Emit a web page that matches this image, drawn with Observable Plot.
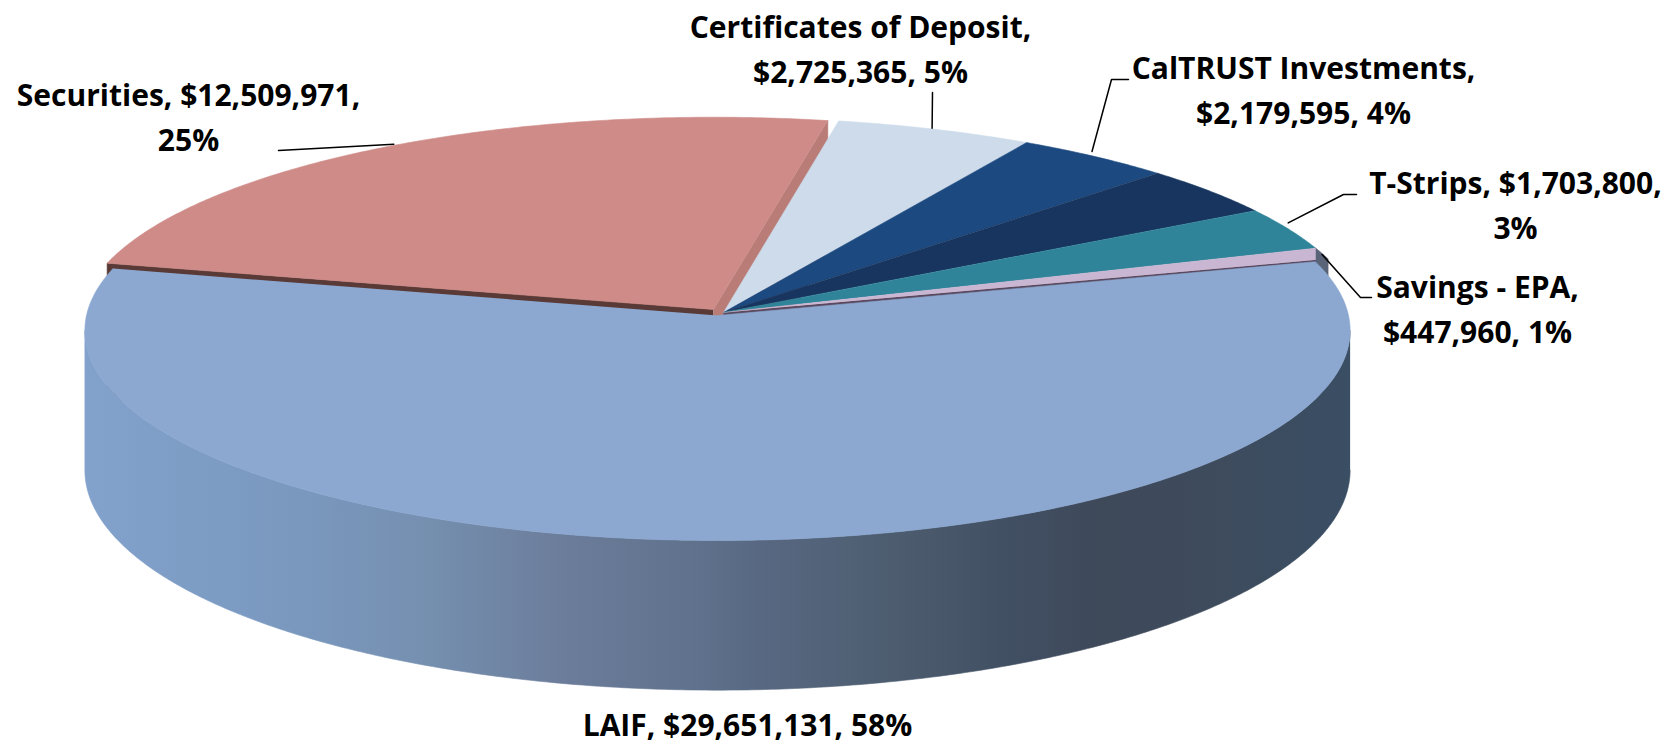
<!DOCTYPE html>
<html>
<head>
<meta charset="utf-8">
<script src="https://cdn.jsdelivr.net/npm/d3@7"></script>
<script src="https://cdn.jsdelivr.net/npm/@observablehq/plot@0.6"></script>
<style>html,body{margin:0;padding:0;background:#fff}svg{display:block}</style>
</head>
<body>
<div id="chart"></div>
<script>
// ---- data
const categories = ["LAIF", "Securities", "Certificates of Deposit", "CalTRUST Investments", "", "T-Strips", "Savings - EPA"];
const values = [29651131, 12509971, 2725365, 2179595, 2000000, 1703800, 447960];
const percents = [58, 25, 5, 4, null, 3, 1];
const topColors = ["#8ca8d1", "#cf8b88", "#cddbea", "#1c4a80", "#17355f", "#2f8499", "#c9b6d2"];

// ---- 3D view
const startAngle = 74.8, cx = 723, cy = 312, k = 0.0714, h0 = 139;
const halfWidths = [631, 633, 638, 638, 638, 638, 638];
const halfDepths = [208.9, 206, 208.9, 208.9, 208.9, 208.9, 208.9];
const offsets = [[-6, 3], [-10, -3], [0, 0], [0, 0], [0, 0], [0, 0], [0, 0]];

const wallStops = [
  [84, "#82a2cc"], [300, "#7a98be"], [430, "#758faf"], [560, "#6c7d9b"], [700, "#5f718c"],
  [760, "#586882"], [900, "#4c5c6e"], [1000, "#425064"], [1100, "#3e495a"], [1200, "#3e4b5c"], [1350, "#3a4e64"]
];

const total = d3.sum(values);
let acc = startAngle;
const slices = values.map((v, i) => {
  const t0 = acc; acc += v / total * 360;
  return {i, t0, t1: acc, mid: (t0 + acc) / 2};
});
function rim(i, theta, drop = 0, r = 1) {
  const off = offsets[i], t = theta * Math.PI / 180, u = r * Math.sin(t), v = -r * Math.cos(t), w = 1 - k * v;
  return {x: cx + off[0] + halfWidths[i] * u / w, y: cy + off[1] + halfDepths[i] * v / w + drop * h0 / w};
}
function arc(i, t0, t1, drop) {
  const n = Math.max(2, Math.ceil(Math.abs(t1 - t0) * 2));
  return d3.range(n + 1).map(j => rim(i, t0 + (t1 - t0) * j / n, drop));
}
const top_ = s => [rim(s.i, 0, 0, 0), ...arc(s.i, s.t0, s.t1, 0)];
const outerWall = (s, t0, t1, drop) => [...arc(s.i, t0, t1, 0), ...arc(s.i, t1, t0, drop)];
const radialWall = (s, t) => [rim(s.i, 0, 0, 0), rim(s.i, t, 0), rim(s.i, t, 1), rim(s.i, 0, 1, 0)];
const poly = (pts, fill) => Plot.line(pts, {x: "x", y: "y", fill, stroke: fill, strokeWidth: 0.6});

// the wall's silhouette turns vertical where cos(theta) = -k
const sideAngle = Math.acos(-k) * 180 / Math.PI;

const defs = () => {
  const d = d3.create("svg:defs");
  const g = d.append("linearGradient").attr("id", "wallGrad").attr("gradientUnits", "userSpaceOnUse")
    .attr("x1", 84).attr("x2", 1350).attr("y1", 0).attr("y2", 0);
  wallStops.forEach(([x, c]) => g.append("stop").attr("offset", (x - 84) / (1350 - 84)).attr("stop-color", c));
  return d.node();
};

// ---- annotations
const fmt = d3.format("$,");
const textOf = i => [categories[i], fmt(values[i]), percents[i] + "%"];
const labelLines = [
  {i: 0, lines: [textOf(0).join(", ")], x: 747, y: [735]},
  {i: 1, lines: [textOf(1).slice(0, 2).join(", ") + ",", textOf(1)[2]], x: 188, y: [105, 150]},
  {i: 2, lines: [textOf(2)[0] + ",", textOf(2).slice(1).join(", ")], x: 860, y: [37, 82]},
  {i: 3, lines: [textOf(3)[0] + ",", textOf(3).slice(1).join(", ")], x: 1303, y: [78, 123]},
  {i: 5, lines: [textOf(5).slice(0, 2).join(", ") + ",", textOf(5)[2]], x: 1515, y: [193, 238]},
  {i: 6, lines: [textOf(6)[0] + ",", textOf(6).slice(1).join(", ")], x: 1477, y: [297, 342]}
];
const textRows = labelLines.flatMap(l => l.lines.map((t, j) => ({t, x: l.x, y: l.y[j]})));
const leaders = [
  {i: 1, nudge: [4, -2], rest: [{x: 278, y: 150}]},
  {i: 2, nudge: [-3, -1], rest: [{x: 932, y: 92}]},
  {i: 3, nudge: [-3, -5], rest: [{x: 1111, y: 79}, {x: 1128, y: 79}]},
  {i: 5, nudge: [0, -6], rest: [{x: 1343, y: 194}, {x: 1356, y: 194}]},
  {i: 6, nudge: [0, 1], rest: [{x: 1360, y: 297}, {x: 1371, y: 297}]}
].map(l => {
  const p = rim(l.i, slices[l.i].mid);
  return [{x: p.x + l.nudge[0], y: p.y + l.nudge[1]}, ...l.rest];
});

const [laif, sec, ...others] = slices;
const savings = slices[6];
const plot = Plot.plot({
  width: 1675, height: 744,
  marginTop: 0, marginRight: 0, marginBottom: 0, marginLeft: 0,
  x: {domain: [0, 1675], range: [0, 1675], axis: null},
  y: {domain: [0, 744], range: [0, 744], axis: null},
  marks: [
    defs,
    poly(radialWall(sec, sec.t0), "#5a3a36"),
    poly(radialWall(sec, sec.t1), "#b97c77"),
    poly(top_(sec), topColors[sec.i]),
    poly(radialWall(savings, savings.t1), "#5a4a60"),
    ...others.map(s => poly(top_(s), topColors[s.i])),
    poly(outerWall(savings, savings.t0, savings.t1, 0.13), "#5a6478"),
    poly(outerWall(laif, sideAngle, 360 - sideAngle, 1), "url(#wallGrad)"),
    poly(top_(laif), topColors[laif.i]),
    ...leaders.map(l => Plot.line(l, {x: "x", y: "y", stroke: "#000", strokeWidth: 1.5})),
    Plot.text(textRows, {x: "x", y: "y", text: "t", lineAnchor: "bottom", textAnchor: "middle",
      fontFamily: "Open Sans", fontWeight: 700, fontSize: 30, fill: "#000"})
  ]
});
document.getElementById("chart").append(plot);
</script>
</body>
</html>
